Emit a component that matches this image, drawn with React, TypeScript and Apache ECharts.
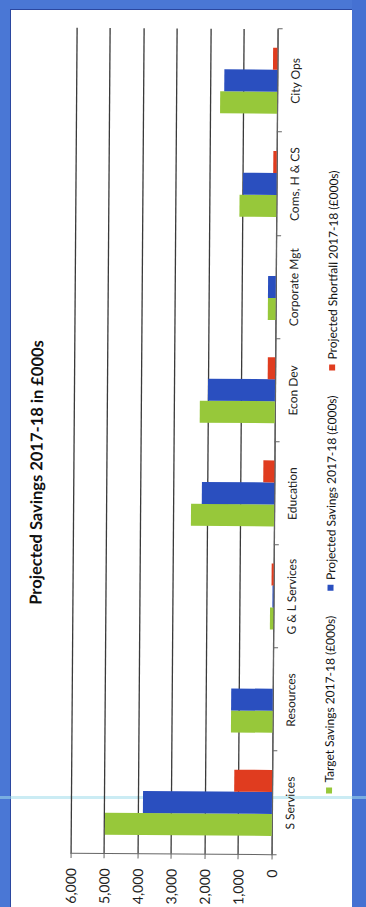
import React, { useEffect, useRef } from "react";
import * as echarts from "echarts";

const categories = [
  "S Services",
  "Resources",
  "G & L Services",
  "Education",
  "Econ Dev",
  "Corporate Mgt",
  "Coms, H & CS",
  "City Ops",
];
const targetSavings = [4980, 1240, 100, 2480, 2240, 230, 1100, 1700];
const projectedSavings = [3850, 1240, 30, 2160, 2000, 230, 1000, 1580];
const projectedShortfall = [1130, 0, 60, 330, 220, 0, 100, 130];
const seriesNames = [
  "Target Savings 2017-18 (£000s)",
  "Projected Savings 2017-18 (£000s)",
  "Projected Shortfall 2017-18 (£000s)",
];
const titleText = "Projected Savings 2017-18 in £000s";

const FONT = "Lato, 'Open Sans', sans-serif";

export default function App() {
  const ref = useRef<HTMLDivElement>(null);

  useEffect(() => {
    if (!ref.current) return;
    const chart = echarts.init(ref.current, undefined, { renderer: "svg" });
    const colors = ["#97c83a", "#2a4fbf", "#e03c1f"];
    const data = [targetSavings, projectedSavings, projectedShortfall];
    chart.setOption({
      animation: false,
      backgroundColor: "transparent",
      textStyle: { fontFamily: FONT },
      graphic: [
        {
          type: "text",
          x: 434,
          y: 36,
          style: {
            text: titleText,
            font: `bold 16.5px ${FONT}`,
            fill: "#111",
            textAlign: "center",
            textVerticalAlign: "middle",
          },
        },
      ],
      legend: {
        left: 110,
        top: 320,
        icon: "rect",
        itemWidth: 6,
        itemHeight: 6,
        itemGap: 25,
        textStyle: { fontSize: 12, color: "#111", fontFamily: FONT },
        data: seriesNames,
      },
      grid: { left: 52, right: 28, top: 73, bottom: 92, containLabel: false },
      xAxis: {
        type: "category",
        data: categories,
        axisLine: { show: true, lineStyle: { color: "#666", width: 1 } },
        axisTick: { show: true, length: 5, lineStyle: { color: "#666" } },
        axisLabel: { fontSize: 12, color: "#222", margin: 12, fontFamily: FONT },
      },
      yAxis: {
        type: "value",
        min: 0,
        max: 6000,
        interval: 1000,
        axisLine: { show: true, lineStyle: { color: "#666", width: 1 } },
        axisTick: { show: true, length: 5, lineStyle: { color: "#666" } },
        axisLabel: {
          fontSize: 14,
          color: "#222",
          margin: 15,
          fontFamily: FONT,
          formatter: (v: number) => v.toLocaleString("en-US"),
        },
        splitLine: { show: true, lineStyle: { color: "#3a3a3a", width: 1.3 } },
      },
      series: seriesNames.map((name, i) => ({
        name,
        type: "bar",
        data: data[i],
        barWidth: 22,
        barGap: "0%",
        itemStyle: { color: colors[i] },
      })),
    });
    return () => chart.dispose();
  }, []);

  return (
    <div
      style={{
        position: "fixed",
        left: 0,
        top: 0,
        width: 366,
        height: 907,
        overflow: "hidden",
        background: "#ffffff",
      }}
    >
      <div style={{ position: "absolute", left: 0, top: 0, width: 10, height: 907, background: "#4a77d5" }} />
      <div style={{ position: "absolute", left: 0, top: 0, width: 366, height: 9, background: "#4a77d5" }} />
      <div style={{ position: "absolute", left: 352, top: 0, width: 14, height: 907, background: "#4571d2" }} />
      <div style={{ position: "absolute", left: 10, top: 9, width: 1, height: 898, background: "#2b47a0" }} />
      <div style={{ position: "absolute", left: 10, top: 9, width: 342, height: 1, background: "#2b47a0" }} />
      <div style={{ position: "absolute", left: 0, top: 796, width: 366, height: 3, background: "rgba(160,220,235,0.55)" }} />
      <div
        ref={ref}
        style={{
          position: "absolute",
          left: -270.5,
          top: 270.5,
          width: 907,
          height: 366,
          transform: "rotate(-89.58deg)",
          transformOrigin: "50% 50%",
        }}
      />
    </div>
  );
}
